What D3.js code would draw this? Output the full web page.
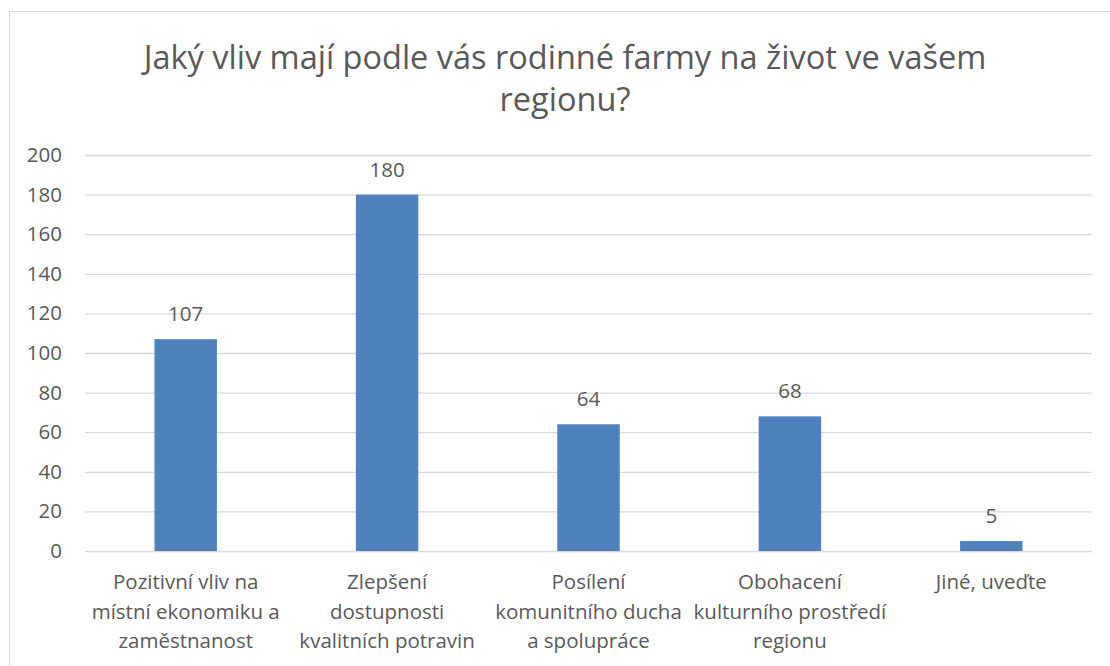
<!DOCTYPE html>
<html>
<head>
<meta charset="utf-8">
<script src="https://cdn.jsdelivr.net/npm/d3@7"></script>
<style>
body { margin: 0; background: #fff; }
svg text { font-family: "Open Sans", "Noto Sans", sans-serif; fill: #595959; }
</style>
</head>
<body>
<svg id="chart" width="1110" height="666"></svg>
<script>
// data
var titleLines = ["Jaký vliv mají podle vás rodinné farmy na život ve vašem", "regionu?"];
var categories = [
    ["Pozitivní vliv na", "místní ekonomiku a", "zaměstnanost"],
    ["Zlepšení", "dostupnosti", "kvalitních potravin"],
    ["Posílení", "komunitního ducha", "a spolupráce"],
    ["Obohacení", "kulturního prostředí", "regionu"],
    ["Jiné, uveďte"]
];
var values = [107, 180, 64, 68, 5];
var yTicks = [0, 20, 40, 60, 80, 100, 120, 140, 160, 180, 200];

var svg = d3.select("#chart");
var margin = {top: 155, right: 18, bottom: 115, left: 85};
var width = 1110 - margin.left - margin.right,
    height = 666 - margin.top - margin.bottom;

// outer frame (right / bottom edge fall outside the window)
svg.append("rect")
    .attr("x", 9.5).attr("y", 11.5)
    .attr("width", 1130).attr("height", 700)
    .attr("fill", "none").attr("stroke", "#d9d9d9");

svg.append("text")
    .attr("text-anchor", "middle")
    .attr("font-size", "32.5px")
    .selectAll("tspan")
    .data(titleLines)
    .enter().append("tspan")
    .attr("x", 565)
    .attr("y", function (d, i) { return 69 + i * 42; })
    .text(function (d) { return d; });

var x = d3.scaleBand().domain(d3.range(categories.length)).range([0, width]).paddingInner(0.69).paddingOuter(0.345);
var y = d3.scaleLinear().domain([0, 200]).range([height, 0]);

var g = svg.append("g").attr("transform", "translate(" + margin.left + "," + margin.top + ")");

var yAxis = d3.axisLeft(y).tickValues(yTicks).tickSize(-width).tickPadding(23);
g.append("g").attr("class", "axis axis--y").call(yAxis)
    .call(function (a) {
        a.select(".domain").remove();
        a.selectAll(".tick line").attr("stroke", "#d9d9d9").attr("stroke-width", 1.3);
        a.selectAll(".tick text").attr("font-size", "20.5px").attr("fill", "#595959").attr("font-family", null);
    });

var xAxis = d3.axisBottom(x).tickSize(0).tickFormat("");
var xa = g.append("g").attr("class", "axis axis--x").attr("transform", "translate(0," + height + ")").call(xAxis);
xa.select(".domain").remove();
xa.selectAll(".tick").append("text")
    .attr("text-anchor", "middle")
    .attr("font-size", "20.5px")
    .selectAll("tspan")
    .data(function (d) { return categories[d]; })
    .enter().append("tspan")
    .attr("x", 0)
    .attr("y", function (d, i) { return 38 + i * 29.5; })
    .text(function (d) { return d; });

g.selectAll(".bar")
    .data(values)
    .enter().append("rect")
    .attr("class", "bar")
    .attr("x", function (d, i) { return x(i); })
    .attr("y", function (d) { return y(d); })
    .attr("width", x.bandwidth())
    .attr("height", function (d) { return height - y(d); })
    .attr("fill", "#4f81bd");

g.selectAll(".label")
    .data(values)
    .enter().append("text")
    .attr("class", "label")
    .attr("text-anchor", "middle")
    .attr("font-size", "20.5px")
    .attr("x", function (d, i) { return x(i) + x.bandwidth() / 2; })
    .attr("y", function (d) { return y(d) - 18; })
    .text(function (d) { return d; });
</script>
</body>
</html>
